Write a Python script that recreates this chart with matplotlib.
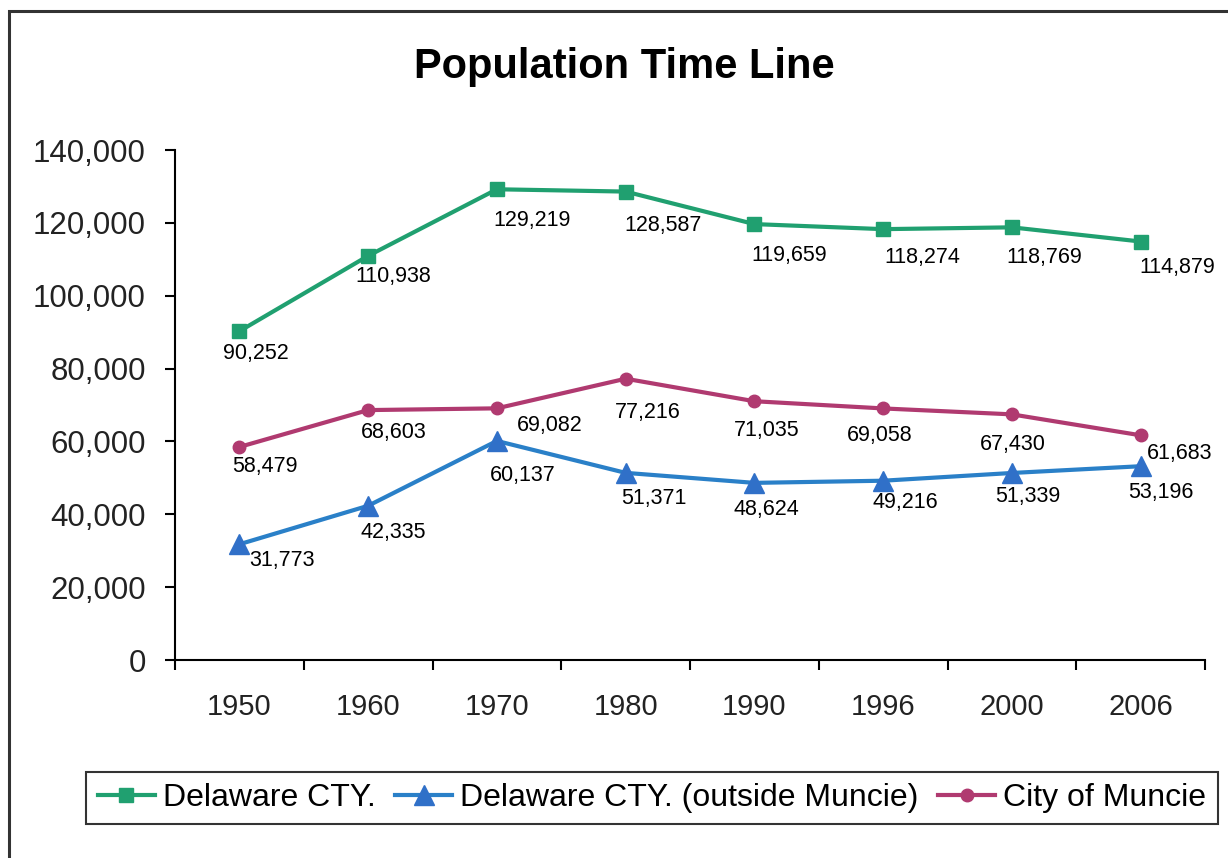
import matplotlib
matplotlib.use("Agg")
import matplotlib.pyplot as plt
from matplotlib.patches import Rectangle
from matplotlib.ticker import FuncFormatter

plt.rcParams['font.family'] = ['Liberation Sans', 'DejaVu Sans']

# Data
years = ["1950", "1960", "1970", "1980", "1990", "1996", "2000", "2006"]
delaware_cty = [90252, 110938, 129219, 128587, 119659, 118274, 118769, 114879]
outside_muncie = [31773, 42335, 60137, 51371, 48624, 49216, 51339, 53196]
city_muncie = [58479, 68603, 69082, 77216, 71035, 69058, 67430, 61683]

# label offsets in pixels (dx, dy below the point)
green_off = [(16, -22), (25, -21), (35, -31), (37, -34), (35, -31), (39, -28), (32, -30), (37, -26)]
blue_off = [(43, -16), (25, -27), (26, -35), (28, -26), (12, -27), (22, -22), (16, -24), (20, -26)]
pink_off = [(26, -20), (26, -22), (53, -17), (22, -34), (12, -29), (-3, -27), (1, -30), (39, -18)]

green = "#20a070"
blue = "#2a80c8"
blue_mk = "#3070c8"
pink = "#b03a70"

fig = plt.figure(figsize=(12.28, 8.58), dpi=100)
ax = fig.add_axes([175 / 1228, 1 - 660 / 858, 1030 / 1228, 510 / 858])

x = list(range(len(years)))
ax.plot(x, delaware_cty, color=green, lw=3, marker="s", ms=10, mfc=green, mec=green,
        label="Delaware CTY.")
ax.plot(x, outside_muncie, color=blue, lw=3, marker="^", ms=14, mfc=blue_mk, mec=blue_mk,
        label="Delaware CTY. (outside Muncie)")
ax.plot(x, city_muncie, color=pink, lw=3, marker="o", ms=9, mfc=pink, mec=pink,
        label="City of Muncie")

for vals, offs in [(delaware_cty, green_off), (outside_muncie, blue_off), (city_muncie, pink_off)]:
    for xi, v, (dx, dy) in zip(x, vals, offs):
        ax.annotate(f"{v:,}", (xi, v), xytext=(dx, dy), textcoords="offset pixels",
                    ha="center", va="center", fontsize=15.5, color="black")

ax.set_xlim(-0.5, len(years) - 0.5)
ax.set_ylim(0, 140000)
ax.set_yticks(range(0, 140001, 20000))
ax.yaxis.set_major_formatter(FuncFormatter(lambda v, p: f"{int(v):,}"))
ax.set_xticks(x)
ax.set_xticklabels(years)
ax.set_xticks([i - 0.5 for i in range(len(years) + 1)], minor=True)
ax.tick_params(axis="x", which="major", length=0, pad=24, labelsize=21, labelcolor="#222222")
ax.tick_params(axis="x", which="minor", length=7, width=1.5, direction="out", color="black")
ax.tick_params(axis="y", length=7, width=1.5, direction="out", pad=14, labelsize=22.5,
               labelcolor="#222222")

for s in ["top", "right"]:
    ax.spines[s].set_visible(False)
for s in ["left", "bottom"]:
    ax.spines[s].set_linewidth(1.5)
    ax.spines[s].set_color("black")

fig.text(624 / 1228, 1 - 67 / 858, "Population Time Line", ha="center", va="center",
         fontsize=30, fontweight="bold")

leg = fig.legend(loc="center", bbox_to_anchor=(652 / 1228, 1 - 798 / 858), ncol=3,
                 fontsize=23, frameon=True, fancybox=False, edgecolor="black",
                 handlelength=1.8, handletextpad=0.25, columnspacing=0.6, borderpad=0.35)
leg.get_frame().set_linewidth(1.5)

fig.patches.append(Rectangle((9 / 1228, -0.1), 1.2, 1.1 - 11 / 858, transform=fig.transFigure,
                             fill=False, edgecolor="#333333", linewidth=2.2))

fig.savefig("out.png", dpi=100)
